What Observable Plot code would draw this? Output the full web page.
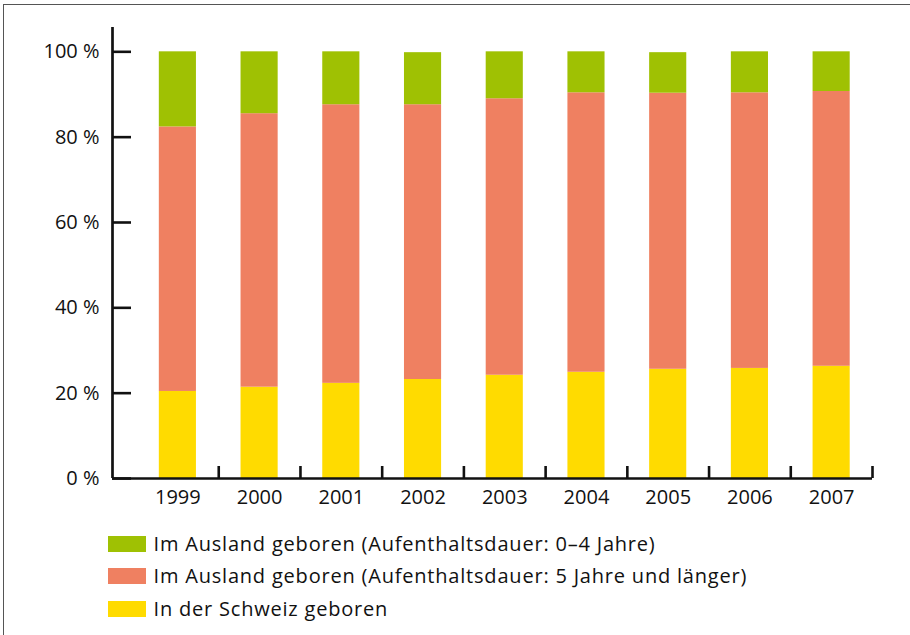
<!DOCTYPE html>
<html>
<head>
<meta charset="utf-8">
<script src="https://cdn.jsdelivr.net/npm/d3@7"></script>
<script src="https://cdn.jsdelivr.net/npm/@observablehq/plot@0.6"></script>
<style>
  html, body { margin: 0; padding: 0; background: #fff; }
  body { width: 910px; height: 635px; position: relative; overflow: hidden; font-family: "Open Sans", sans-serif; }
  #border { position: absolute; left: 3px; top: 4px; width: 920px; height: 640px; border-top: 1.5px solid #555; border-left: 1.5px solid #555; }
  #chart { position: absolute; left: 0; top: 0; }
  #legend { position: absolute; left: 108px; top: 536px; }
  .row { display: flex; align-items: center; height: 16px; margin-bottom: 16.3px; }
  .sw { width: 38px; height: 16px; margin-right: 7.5px; flex: none; }
  .lab { font-size: 20px; letter-spacing: 0.8px; color: #111; white-space: nowrap; line-height: 16px; }
</style>
</head>
<body>
<div id="border"></div>
<div id="chart"></div>
<div id="legend"></div>
<script>
const years = [1999, 2000, 2001, 2002, 2003, 2004, 2005, 2006, 2007];
const schweiz = [20.4, 21.4, 22.3, 23.2, 24.2, 24.9, 25.6, 25.8, 26.3];
const auslandLang = [62.0, 64.1, 65.3, 64.4, 64.8, 65.5, 64.7, 64.6, 64.4];
const auslandKurz = [17.6, 14.5, 12.4, 12.2, 11.0, 9.6, 9.5, 9.6, 9.3];
const seriesNames = [
  "Im Ausland geboren (Aufenthaltsdauer: 0–4 Jahre)",
  "Im Ausland geboren (Aufenthaltsdauer: 5 Jahre und länger)",
  "In der Schweiz geboren"
];
const seriesColors = ["#9FC103", "#EF8061", "#FFDB00"];
const yTicks = [0, 20, 40, 60, 80, 100];
const xDomain = [1998.2, 2007.5];
const yDomain = [0, 105.7];

const rows = [];
years.forEach((year, i) => {
  rows.push({year, series: seriesNames[2], value: schweiz[i]});
  rows.push({year, series: seriesNames[1], value: auslandLang[i]});
  rows.push({year, series: seriesNames[0], value: auslandKurz[i]});
});

const W = 910, H = 515, mL = 112, mR = 38, mT = 27, mB = 37;
const frameW = W - mL - mR, frameH = H - mT - mB;

const chart = Plot.plot({
  width: W,
  height: H,
  marginLeft: mL,
  marginRight: mR,
  marginTop: mT,
  marginBottom: mB,
  style: {fontFamily: "'Open Sans', sans-serif", fontSize: "20px", color: "#111", background: "transparent"},
  x: {type: "linear", domain: xDomain, label: null},
  y: {domain: yDomain, label: null},
  color: {domain: seriesNames, range: seriesColors},
  marks: [
    Plot.rectY(rows, Plot.stackY({
      x1: d => d.year - 0.5,
      x2: d => d.year + 0.5,
      y: "value",
      fill: "series",
      insetLeft: 22.3,
      insetRight: 22.3
    })),
    Plot.tickY(yTicks, {y: d => d, stroke: "#111", strokeWidth: 2.6, insetRight: frameW - 19}),
    Plot.tickX(years, {x: d => d + 0.5, stroke: "#111", strokeWidth: 2.6, insetTop: frameH - 12}),
    Plot.ruleY([0], {stroke: "#111", strokeWidth: 2.7}),
    Plot.ruleX([xDomain[0]], {stroke: "#111", strokeWidth: 2.7}),
    Plot.axisY({ticks: yTicks, tickSize: 0, tickPadding: 13, tickFormat: d => d + " %", fontSize: 20, fill: "#111", label: null}),
    Plot.axisX({ticks: years, tickSize: 0, tickPadding: 11, tickFormat: d => String(d), fontSize: 20, fill: "#111", label: null})
  ]
});
document.getElementById("chart").appendChild(chart);

const legend = document.getElementById("legend");
seriesNames.forEach((name, i) => {
  const row = document.createElement("div");
  row.className = "row";
  const sw = document.createElement("div");
  sw.className = "sw";
  sw.style.background = seriesColors[i];
  const lab = document.createElement("span");
  lab.className = "lab";
  lab.textContent = name;
  row.appendChild(sw);
  row.appendChild(lab);
  legend.appendChild(row);
});
</script>
</body>
</html>
